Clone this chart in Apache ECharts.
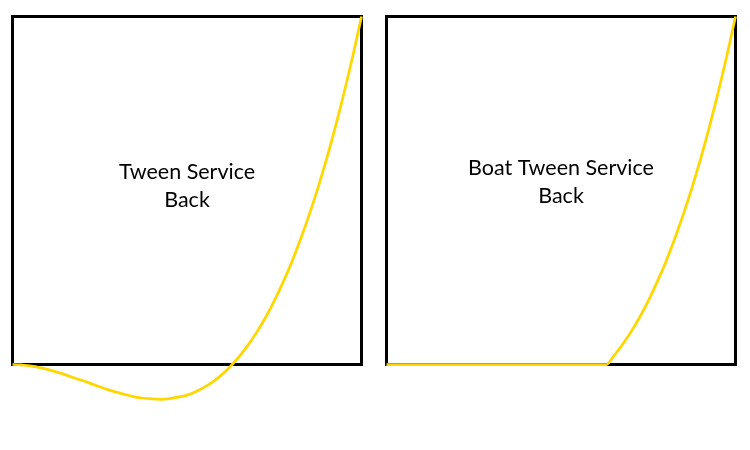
<!DOCTYPE html>
<html>
<head>
<meta charset="utf-8">
<script src="https://cdn.jsdelivr.net/npm/echarts@6/dist/echarts.min.js"></script>
<style>html,body{margin:0;padding:0;background:#fff}#c{width:750px;height:450px}</style>
</head>
<body>
<div id="c"></div>
<script>
// Left panel: "Tween Service Back" (normalized time vs. progress)
var tweenX = [0, 0.025, 0.05, 0.075, 0.1, 0.125, 0.15, 0.175, 0.2, 0.225, 0.25, 0.275, 0.3, 0.325, 0.35, 0.375, 0.4, 0.425, 0.45, 0.475, 0.5, 0.525, 0.55, 0.575, 0.6, 0.625, 0.65, 0.675, 0.7, 0.725, 0.75, 0.775, 0.8, 0.825, 0.85, 0.875, 0.9, 0.925, 0.95, 0.975, 1.0];
var tweenY = [0, -0.001, -0.004, -0.008, -0.014, -0.021, -0.029, -0.038, -0.046, -0.055, -0.064, -0.073, -0.080, -0.087, -0.093, -0.097, -0.099, -0.100, -0.098, -0.094, -0.088, -0.078, -0.065, -0.049, -0.029, -0.005, 0.023, 0.056, 0.093, 0.135, 0.183, 0.236, 0.294, 0.359, 0.430, 0.507, 0.591, 0.682, 0.781, 0.886, 1.0];
// Right panel: "Boat Tween Service Back"
var boatX = [0, 0.2, 0.4, 0.63, 0.65, 0.675, 0.7, 0.725, 0.75, 0.775, 0.8, 0.825, 0.85, 0.875, 0.9, 0.925, 0.95, 0.975, 1.0];
var boatY = [0, 0, 0, 0, 0.023, 0.056, 0.093, 0.135, 0.183, 0.236, 0.294, 0.359, 0.430, 0.507, 0.591, 0.682, 0.781, 0.886, 1.0];
var titles = ['Tween Service\nBack', 'Boat Tween Service\nBack'];

function pairs(xs, ys) { return xs.map(function (x, i) { return [x, ys[i]]; }); }

var chart = echarts.init(document.getElementById('c'), null, {renderer: 'canvas'});
var grids = [
  {left: 12.5, top: 16.5, width: 349, height: 348},
  {left: 386.5, top: 16.5, width: 349, height: 348}
];
var axisCommon = {
  type: 'value', min: 0, max: 1,
  axisLine: {show: false}, axisTick: {show: false}, axisLabel: {show: false}, splitLine: {show: false}
};
var font = '21.5px Lato, "Open Sans", sans-serif';
chart.setOption({
  animation: false,
  backgroundColor: '#fff',
  grid: grids.map(function (g) {
    return Object.assign({show: true, borderColor: '#000', borderWidth: 3, backgroundColor: 'transparent', containLabel: false}, g);
  }),
  xAxis: [Object.assign({gridIndex: 0}, axisCommon), Object.assign({gridIndex: 1}, axisCommon)],
  yAxis: [Object.assign({gridIndex: 0}, axisCommon), Object.assign({gridIndex: 1}, axisCommon)],
  series: [
    {type: 'line', xAxisIndex: 0, yAxisIndex: 0, data: pairs(tweenX, tweenY), smooth: 0.3, showSymbol: false, clip: false, z: 5,
     lineStyle: {color: '#FFD700', width: 2.75}},
    {type: 'line', xAxisIndex: 1, yAxisIndex: 1, data: pairs(boatX, boatY), smooth: 0.2, showSymbol: false, clip: false, z: 5,
     lineStyle: {color: '#FFD700', width: 2.75}}
  ],
  graphic: [
    {type: 'text', style: {text: titles[0], x: 187, y: 186, textAlign: 'center', textVerticalAlign: 'middle', font: font, lineHeight: 28, fill: '#000'}},
    {type: 'text', style: {text: titles[1], x: 561, y: 182, textAlign: 'center', textVerticalAlign: 'middle', font: font, lineHeight: 28, fill: '#000'}}
  ]
});
</script>
</body>
</html>
